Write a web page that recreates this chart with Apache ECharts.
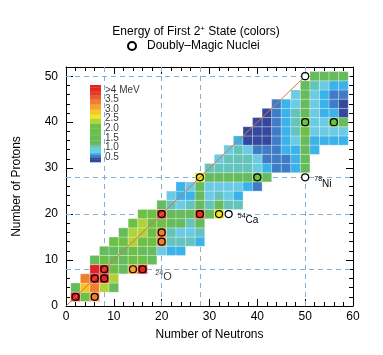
<!DOCTYPE html>
<html><head><meta charset="utf-8">
<script src="https://cdn.jsdelivr.net/npm/echarts@6/dist/echarts.min.js"></script>
<style>html,body{margin:0;padding:0;background:#fff}#c{width:383px;height:355px}</style>
</head><body><div id="c"></div>
<script>
// ---------- data ----------
const xMajorTicks = [0, 10, 20, 30, 40, 50, 60];
const xMinorTicks = [2,4,6,8,12,14,16,18,22,24,26,28,32,34,36,38,42,44,46,48,52,54,56,58];
const yMajorTicks = [0, 10, 20, 30, 40, 50];
const yMinorTicks = [2,4,6,8,12,14,16,18,22,24,26,28,32,34,36,38,42,44,46,48,52];
const magicNumbers = [8, 20, 28, 50];
const nEqualsZ = [0, 50];

// proton number of each row and first neutron number in that row (even-even nuclei)
const rowZ      = [2, 4, 6, 8, 10, 12, 14, 16, 18, 20, 22, 24, 26, 28, 30, 32, 34, 36, 38, 40, 42, 44, 46, 48, 50];
const rowFirstN = [2, 2, 4, 6,  6,  8, 10, 12, 14, 16, 20, 22, 24, 28, 30, 32, 34, 36, 38, 40, 42, 44, 48, 50, 52];
// E(2+) in MeV along each row, N = first, first+2, ...
const eZ02 = [4.5, 1.80, 3.40];
const eZ04 = [1.67, 2.90, 3.37, 2.30, 1.59];
const eZ06 = [3.35, 4.44, 7.01, 2.30];
const eZ08 = [6.59, 6.92, 1.98, 1.67, 3.20, 4.72];
const eZ10 = [1.69, 1.89, 1.63, 1.27, 1.98, 2.02, 1.31];
const eZ12 = [1.60, 1.25, 1.37, 1.81, 1.47, 1.48, 0.90, 0.70, 0.70];
const eZ14 = [1.88, 1.80, 2.30, 2.24, 1.94, 3.33, 1.10, 1.08, 0.99, 0.74];
const eZ16 = [1.51, 2.30, 2.30, 2.13, 3.29, 1.10, 0.90, 0.89, 1.10];
const eZ18 = [1.87, 2.30, 1.97, 2.17, 1.46, 1.21, 1.14, 1.55];
const eZ20 = [2.00, 2.21, 3.90, 1.52, 1.16, 1.35, 3.83, 1.50, 2.56];
const eZ22 = [1.55, 1.08, 0.89, 0.98, 1.55, 1.05, 1.49, 1.13, 1.05];
const eZ24 = [0.89, 0.75, 0.78, 1.43, 0.83, 1.01, 0.88, 0.65];
const eZ26 = [0.77, 0.85, 1.41, 0.85, 0.81, 0.82, 0.88, 0.75, 0.57];
const eZ28 = [2.70, 1.45, 1.33, 1.17, 1.35, 1.42, 2.03, 1.26];
const eZ30 = [1.00, 0.95, 0.99, 1.04, 1.08, 0.88, 0.65, 0.61, 0.60, 0.73, 1.49];
const eZ32 = [0.90, 0.96, 1.02, 1.04, 0.83, 0.60, 0.56, 0.62, 0.66, 1.35];
const eZ34 = [0.85, 0.95, 0.86, 0.63, 0.56, 0.61, 0.67, 0.65, 1.45, 0.70];
const eZ36 = [0.71, 0.46, 0.42, 0.45, 0.62, 0.78, 0.88, 1.56, 0.78, 0.71, 0.77, 0.67];
const eZ38 = [0.26, 0.28, 0.39, 0.57, 0.79, 1.08, 1.84, 0.83, 0.81, 0.84, 0.82];
const eZ40 = [0.29, 0.41, 0.54, 0.75, 1.06, 2.19, 0.93, 0.92, 1.75, 1.22];
const eZ42 = [0.44, 0.57, 0.74, 0.95, 1.51, 0.87, 0.78, 0.79, 0.45];
const eZ44 = [0.62, 0.74, 0.87, 1.43, 0.83, 0.65, 0.54, 0.45];
const eZ46 = [0.90, 1.42, 0.86, 0.67, 0.56, 0.56];
const eZ48 = [1.39, 1.00, 0.85, 0.70, 0.70];
const eZ50 = [1.47, 1.26, 1.21, 1.21];
const rowEnergies = [eZ02,eZ04,eZ06,eZ08,eZ10,eZ12,eZ14,eZ16,eZ18,eZ20,eZ22,eZ24,eZ26,eZ28,eZ30,eZ32,eZ34,eZ36,eZ38,eZ40,eZ42,eZ44,eZ46,eZ48,eZ50];

// doubly-magic nuclei (circles)
const magicN = [2, 6, 6, 8, 8, 14, 16, 20, 20, 20, 28, 32, 34, 28, 40, 50, 50, 56, 50];
const magicZ = [2, 2, 6, 6, 8,  8,  8, 14, 16, 20, 20, 20, 20, 28, 28, 28, 40, 40, 50];
// labelled nuclei
const labelN = [34, 50];
const labelZ = [20, 28];
const labelMass = ['54', '78'];
const labelSym = ['Ca', 'Ni'];
// free-standing 24O annotation (position)
const noteN = [22.1];
const noteZ = [6.45];
const noteMass = ['24'];
const noteSym = ['O'];

// colour bar
const barTicks = [0.5, 1.0, 1.5, 2.0, 2.5, 3.0, 3.5, 4.0];
const barLabels = ['0.5', '1.0', '1.5', '2.0', '2.5', '3.0', '3.5', '>4 MeV'];
const barMin = 0.25, barMax = 4.25, barStep = 0.125;

// ---------- build ----------
const FONT = 'Liberation Sans, Arial, Helvetica, sans-serif';
const cells = [];
rowZ.forEach((z, i) => rowEnergies[i].forEach((e, j) => cells.push([rowFirstN[i] + 2 * j, z, e])));
const hasCell = {};
cells.forEach(c => hasCell[c[0] + '_' + c[1]] = true);

const circleData = magicN.map((n, i) => {
  const z = magicZ[i];
  const item = { value: [n, z] };
  if (!hasCell[n + '_' + z]) item.itemStyle = { color: '#ffffff' };
  const k = labelN.findIndex((ln, m) => ln === n && labelZ[m] === z);
  if (k >= 0) {
    item.label = { show: true, position: 'right', distance: 5, offset: [0, 5],
      formatter: '{m|' + labelMass[k] + '}{s|' + labelSym[k] + '}' };
  }
  return item;
});

const barData = [];
for (let v = barMin + barStep / 2; v < barMax; v += barStep) barData.push([0, v, v]);

const pieces = [
  { lt: 0.5, color: '#34489c' },
  { gte: 0.5, lt: 0.65, color: '#3e7cc6' },
  { gte: 0.65, lt: 0.8, color: '#3ab2ea' },
  { gte: 0.8, lt: 0.95, color: '#6ccbe4' },
  { gte: 0.95, lt: 1.15, color: '#64c4bc' },
  { gte: 1.15, lt: 1.75, color: '#66bc5c' },
  { gte: 1.75, lt: 2.25, color: '#6cc046' },
  { gte: 2.25, lt: 2.5, color: '#b0d23a' },
  { gte: 2.5, lt: 2.75, color: '#ece62a' },
  { gte: 2.75, lt: 3.0, color: '#f8c424' },
  { gte: 3.0, lt: 3.25, color: '#f6a030' },
  { gte: 3.25, lt: 3.5, color: '#f07e30' },
  { gte: 3.5, lt: 3.75, color: '#ea5a2c' },
  { gte: 3.75, lt: 4.0, color: '#e43426' },
  { gte: 4.0, color: '#e02424' }
];

const richLabel = {
  m: { fontSize: 7, fontFamily: FONT, color: '#000', verticalAlign: 'top', lineHeight: 13 },
  s: { fontSize: 10, fontFamily: FONT, color: '#000', verticalAlign: 'bottom', lineHeight: 13 }
};

const tickStyle = { color: '#000', width: 1 };
function xAx(pos, ticks, len, labels, line) {
  return { type: 'value', gridIndex: 0, min: 0, max: 60, interval: 10, position: pos,
    axisLine: { show: line, onZero: false, lineStyle: { color: '#000', width: 1 } },
    axisTick: { show: true, inside: true, length: len, customValues: ticks, lineStyle: tickStyle },
    axisLabel: { show: labels, customValues: xMajorTicks, fontSize: 12, fontFamily: FONT, color: '#000', margin: 5,
      showMinLabel: true, showMaxLabel: true },
    splitLine: { show: false } };
}
function yAx(pos, ticks, len, labels, line) {
  return { type: 'value', gridIndex: 0, min: 0, max: 52, interval: 10, position: pos,
    axisLine: { show: line, onZero: false, lineStyle: { color: '#000', width: 1 } },
    axisTick: { show: true, inside: true, length: len, customValues: ticks, lineStyle: tickStyle },
    axisLabel: { show: labels, customValues: yMajorTicks, fontSize: 12, fontFamily: FONT, color: '#000', margin: 8,
      showMinLabel: true },
    splitLine: { show: false } };
}
const xAxes = [xAx('bottom', xMajorTicks, 7, true, true), xAx('bottom', xMinorTicks, 4, false, false),
               xAx('top', xMajorTicks, 7, false, true), xAx('top', xMinorTicks, 4, false, false)];
Object.assign(xAxes[0], { name: 'Number of Neutrons', nameLocation: 'middle', nameGap: 23,
  nameTextStyle: { fontSize: 12, fontFamily: FONT, color: '#000' } });
xAxes.push({ type: 'value', gridIndex: 1, min: 0, max: 1, show: false });
const yAxes = [yAx('left', yMajorTicks, 7, true, true), yAx('left', yMinorTicks, 4, false, false),
               yAx('right', yMajorTicks, 7, false, true), yAx('right', yMinorTicks, 4, false, false)];
Object.assign(yAxes[0], { name: 'Number of Protons', nameLocation: 'middle', nameGap: 43, nameRotate: 90,
  nameTextStyle: { fontSize: 12, fontFamily: FONT, color: '#000' } });
yAxes.push({ type: 'value', gridIndex: 1, min: barMin, max: barMax, show: false });

const option = {
  animation: false,
  backgroundColor: '#fff',
  title: { text: 'Energy of First 2{p|+} State (colors)', left: 196, top: 25, textAlign: 'center', padding: 0,
    textStyle: { fontSize: 12, fontWeight: 'normal', fontFamily: FONT, color: '#000',
      rich: { p: { fontSize: 8, fontFamily: FONT, color: '#000', verticalAlign: 'top', lineHeight: 14 } } } },
  legend: { left: 127, top: 40, padding: 0, itemWidth: 20, itemHeight: 8, itemGap: 0,
    data: ['Doubly–Magic Nuclei'], textStyle: { fontSize: 12, fontFamily: FONT, color: '#000' } },
  grid: [{ left: 66, right: 30, top: 67, bottom: 49 }, { left: 90, top: 85, width: 11, height: 77 }],
  xAxis: xAxes,
  yAxis: yAxes,
  visualMap: { type: 'piecewise', show: false, dimension: 2, seriesIndex: [1, 5], pieces: pieces },
  series: [
    { type: 'line', data: [], xAxisIndex: 0, yAxisIndex: 0, z: 1, silent: true,
      markLine: { silent: true, symbol: ['none', 'none'], label: { show: false }, z: 1,
        lineStyle: { color: '#86aed0', type: [5, 4], width: 1 },
        data: magicNumbers.map(m => ({ xAxis: m })).concat(magicNumbers.map(m => ({ yAxis: m }))) } },
    { type: 'custom', xAxisIndex: 0, yAxisIndex: 0, z: 2, data: cells,
      renderItem: (params, api) => {
        const n = api.value(0), z = api.value(1);
        const p0 = api.coord([n - 1, z + 1]), p1 = api.coord([n + 1, z - 1]);
        return { type: 'rect', shape: { x: p0[0], y: p0[1], width: p1[0] - p0[0], height: p1[1] - p0[1] },
          style: { fill: api.visual('color'), stroke: 'rgba(255,255,255,0.45)', lineWidth: 0.6 } };
      } },
    { type: 'line', xAxisIndex: 0, yAxisIndex: 0, z: 3, symbol: 'none', silent: true,
      data: nEqualsZ.map(v => [v, v]), lineStyle: { color: '#e07040', width: 1 } },
    { type: 'scatter', name: 'Doubly–Magic Nuclei', xAxisIndex: 0, yAxisIndex: 0, z: 4,
      symbol: 'circle', symbolSize: 7,
      itemStyle: { color: 'rgba(0,0,0,0)', borderColor: '#000', borderWidth: 1.2, opacity: 1 },
      label: { rich: richLabel }, data: circleData },
    { type: 'scatter', xAxisIndex: 0, yAxisIndex: 0, z: 4, symbolSize: 0, silent: true,
      data: noteN.map((n, i) => ({ value: [n, noteZ[i]] })),
      label: { show: true, position: 'left', distance: 0,
        formatter: p => '{m|' + noteMass[p.dataIndex] + '}{o|' + noteSym[p.dataIndex] + '}',
        rich: { m: richLabel.m, o: { fontSize: 11, fontFamily: FONT, color: '#000', verticalAlign: 'bottom', lineHeight: 13 } } } },
    { type: 'custom', xAxisIndex: 4, yAxisIndex: 4, data: barData, silent: true,
      renderItem: (params, api) => {
        const v = api.value(1);
        const p0 = api.coord([0, v + barStep / 2]), p1 = api.coord([1, v - barStep / 2]);
        return { type: 'rect', shape: { x: p0[0], y: p0[1], width: p1[0] - p0[0], height: p1[1] - p0[1] + 0.3 },
          style: { fill: api.visual('color') } };
      } },
    { type: 'scatter', xAxisIndex: 4, yAxisIndex: 4, symbolSize: 0, silent: true, z: 5,
      data: barTicks.map((t, i) => ({ value: [1, t], name: barLabels[i] })),
      label: { show: true, position: 'right', distance: 4, formatter: p => p.name,
        fontSize: 10, fontFamily: FONT, color: '#000' } }
  ]
};
echarts.init(document.getElementById('c'), null, { renderer: 'canvas' }).setOption(option);
</script></body></html>
